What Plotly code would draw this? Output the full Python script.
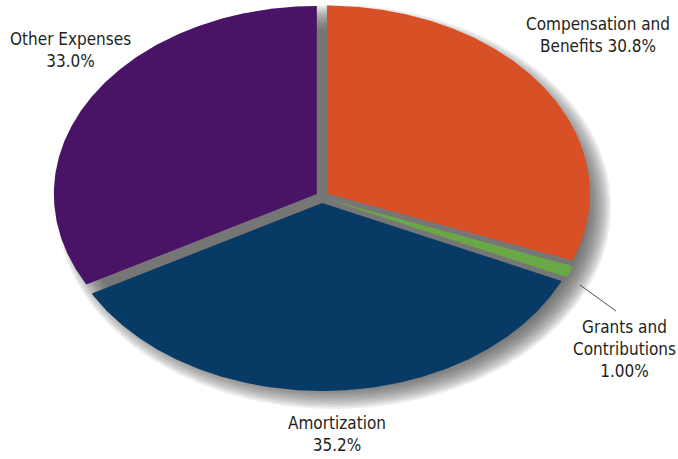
import numpy as np
import plotly.graph_objects as go

# Expense breakdown (percent of total), clockwise from 12 o'clock
categories = ["Compensation and Benefits", "Grants and Contributions", "Amortization", "Other Expenses"]
values = [30.8, 1.00, 35.2, 33.0]
decimals = [1, 2, 1, 1]
label_templates = [
    "Compensation and<br>Benefits {}",
    "Grants and<br>Contributions<br>{}",
    "Amortization<br>{}",
    "Other Expenses<br>{}",
]
colors = ["#d85026", "#6aa845", "#083a66", "#4a1466"]

# Tilted-pie geometry (pixel space)
W, H = 678, 459
CX, CY = 322, 197
RX, RY = 263, 188
EXPLODE = 6
SHADOW_DX, SHADOW_DY = 12, 10

# Label anchor points and leader line
label_pos = [(598, 35), (624, 349), (337, 434), (70, 50)]
leader = (580, 285, 616, 311)

FONT = "DejaVu Sans Condensed, Liberation Sans Narrow, sans-serif"


def ellipse_xy(theta_deg, cx, cy, rx, ry):
    t = np.radians(theta_deg)
    return cx + rx * np.sin(t), cy - ry * np.cos(t)


fig = go.Figure()

# Soft drop shadow: stacked translucent ellipses
for k in range(14, -12, -2):
    th = np.linspace(0, 360, 361)
    sx, sy = ellipse_xy(th, CX + SHADOW_DX, CY + SHADOW_DY, RX + k, RY + k)
    fig.add_trace(go.Scatter(
        x=sx, y=sy, mode="lines", fill="toself",
        line=dict(width=0), fillcolor="rgba(80,80,80,0.10)",
        hoverinfo="skip", showlegend=False))

# Exploded wedges
total = sum(values)
start = 0.0
for name, v, c in zip(categories, values, colors):
    span = v / total * 360.0
    end = start + span
    mid = np.radians((start + end) / 2)
    ox, oy = EXPLODE * np.sin(mid), -EXPLODE * np.cos(mid)
    th = np.linspace(start, end, max(int(span * 2), 4))
    ax_, ay_ = ellipse_xy(th, CX + ox, CY + oy, RX, RY)
    xs = np.concatenate([[CX + ox], ax_, [CX + ox]])
    ys = np.concatenate([[CY + oy], ay_, [CY + oy]])
    fig.add_trace(go.Scatter(
        x=xs, y=ys, mode="lines", fill="toself",
        line=dict(width=0), fillcolor=c, name=name,
        hoverinfo="name", showlegend=False))
    start = end

# Labels
for tmpl, v, d, (lx, ly) in zip(label_templates, values, decimals, label_pos):
    fig.add_annotation(
        x=lx, y=ly, xref="x", yref="y", showarrow=False,
        text=tmpl.format(f"{v:.{d}f}%"), align="center",
        font=dict(family=FONT, size=17, color="#231f20"))

fig.add_shape(type="line", x0=leader[0], y0=leader[1], x1=leader[2], y1=leader[3],
              xref="x", yref="y", line=dict(color="#4d4d4d", width=1))

fig.update_layout(
    width=W, height=H, autosize=False,
    margin=dict(l=0, r=0, t=0, b=0),
    paper_bgcolor="white", plot_bgcolor="white",
    xaxis=dict(range=[0, W], visible=False, fixedrange=True),
    yaxis=dict(range=[H, 0], visible=False, fixedrange=True),
)

fig.write_html("out.html")
